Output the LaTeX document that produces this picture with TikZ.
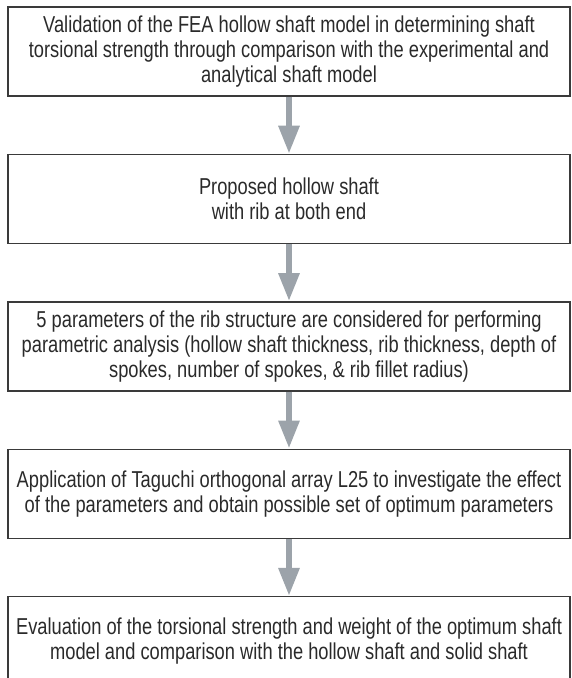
\documentclass[tikz,border=0pt]{standalone}
\usepackage{fontspec}
\setmainfont{Liberation Sans}[FakeStretch=0.795]
\usetikzlibrary{positioning,arrows.meta}
\definecolor{edge}{HTML}{3A3A3A}
\definecolor{arr}{HTML}{9CA3AA}
\definecolor{txt}{HTML}{2A2A2A}
\tikzset{
  stage/.style={draw=edge, line width=1.4pt, minimum width=562pt, minimum height=89pt,
                align=center, font=\fontsize{23}{25}\selectfont, text=txt, inner sep=0pt},
  flow/.style={-{Triangle[width=20pt,length=28pt]}, line width=6pt, draw=arr},
}
\begin{document}
\begin{tikzpicture}[node distance=57pt]
  \useasboundingbox (0,0) rectangle (571pt,-678pt);
  \node[stage] (val) at (289pt,-51.5pt) {Validation of the FEA hollow shaft model in determining shaft\\torsional strength through comparison with the experimental and\\analytical shaft model};
  \node[stage,below=of val] (prop) {Proposed hollow shaft\\with rib at both end};
  \node[stage,below=of prop] (param) {5 parameters of the rib structure are considered for performing\\parametric analysis (hollow shaft thickness, rib thickness, depth of\\spokes, number of spokes, \& rib fillet radius)};
  \node[stage,below=of param] (tag) {Application of Taguchi orthogonal array L25 to investigate the effect\\of the parameters and obtain possible set of optimum parameters};
  \node[stage,below=of tag] (eval) {Evaluation of the torsional strength and weight of the optimum shaft\\model and comparison with the hollow shaft and solid shaft};
  \draw[flow](val)--(prop); \draw[flow](prop)--(param);
  \draw[flow](param)--(tag); \draw[flow](tag)--(eval);
\end{tikzpicture}
\end{document}
